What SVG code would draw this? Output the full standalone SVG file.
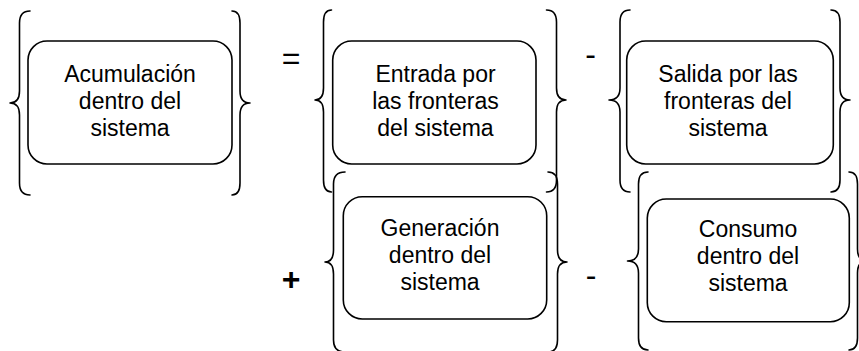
<svg xmlns="http://www.w3.org/2000/svg" width="859" height="351" viewBox="0 0 859 351">
<style>
.br{fill:none;stroke:#000;stroke-width:1.6;stroke-linecap:round;stroke-linejoin:round}
.bx{fill:#fff;stroke:#000;stroke-width:1.6}
.t{font-family:"Liberation Sans",Arial,sans-serif;font-size:23px;fill:#000;text-anchor:middle}
.op{font-family:"Liberation Sans",Arial,sans-serif;font-size:32px;fill:#000;text-anchor:middle}
</style>
<rect width="859" height="351" fill="#fff"/>
<g id="connectors">
<text class="op" x="291" y="69">=</text>
<text class="op" x="590.5" y="65">-</text>
<text class="op" x="291" y="289.5" font-weight="bold">+</text>
<text class="op" x="591" y="285.5">-</text>
</g>
<g id="acumulacion">
<path class="br" d="M30,11 Q19.5,11 19.5,23 L19.5,91 Q19.5,103 10,103 Q19.5,103 19.5,115 L19.5,183 Q19.5,195 30,195"/>
<path class="br" d="M232,11 Q240,11 240,23 L240,91 Q240,103 250,103 Q240,103 240,115 L240,183 Q240,195 232,195"/>
<rect class="bx" x="28" y="41" width="204" height="123" rx="19"/>
<text class="t" x="130" y="82">Acumulación</text>
<text class="t" x="130" y="109">dentro del</text>
<text class="t" x="130" y="136">sistema</text>
</g>
<g id="entrada">
<path class="br" d="M331.5,10 Q323.5,10 323.5,22 L323.5,88 Q323.5,100 315,100 Q323.5,100 323.5,112 L323.5,180 Q323.5,192 331.5,192"/>
<path class="br" d="M546.5,10 Q556.5,10 556.5,22 L556.5,88 Q556.5,100 566,100 Q556.5,100 556.5,112 L556.5,180 Q556.5,192 546.5,192"/>
<rect class="bx" x="332.7" y="41" width="203.3" height="123" rx="19"/>
<text class="t" x="435.5" y="82">Entrada por</text>
<text class="t" x="435.5" y="109">las fronteras</text>
<text class="t" x="435.5" y="136">del sistema</text>
</g>
<g id="salida">
<path class="br" d="M630,10 Q620,10 620,22 L620,88 Q620,100 609,100 Q620,100 620,112 L620,180 Q620,192 630,192"/>
<path class="br" d="M831,10 Q840,10 840,22 L840,88 Q840,100 850,100 Q840,100 840,112 L840,180 Q840,192 831,192"/>
<rect class="bx" x="626.7" y="41" width="206.6" height="123" rx="19"/>
<text class="t" x="728" y="82">Salida por las</text>
<text class="t" x="728" y="109">fronteras del</text>
<text class="t" x="728" y="136">sistema</text>
</g>
<g id="generacion">
<path class="br" d="M345,172 Q333.5,172 333.5,184 L333.5,250 Q333.5,262 325,262 Q333.5,262 333.5,274 L333.5,340 Q333.5,352 345,352"/>
<path class="br" d="M548,172 Q557.5,172 557.5,184 L557.5,250 Q557.5,262 567,262 Q557.5,262 557.5,274 L557.5,340 Q557.5,352 548,352"/>
<rect class="bx" x="343.3" y="196.7" width="203.4" height="122.3" rx="19"/>
<text class="t" x="440" y="236">Generación</text>
<text class="t" x="440" y="263">dentro del</text>
<text class="t" x="440" y="290">sistema</text>
</g>
<g id="consumo">
<path class="br" d="M648,172 Q638.5,172 638.5,184 L638.5,249 Q638.5,261 627.5,261 Q638.5,261 638.5,273 L638.5,338 Q638.5,350 648,350"/>
<path class="br" d="M849,172 Q857.5,172 857.5,184 L857.5,249 Q857.5,261 867,261 Q857.5,261 857.5,273 L857.5,338 Q857.5,350 849,350"/>
<rect class="bx" x="647.3" y="199" width="202" height="122.7" rx="19"/>
<text class="t" x="748" y="237">Consumo</text>
<text class="t" x="748" y="264">dentro del</text>
<text class="t" x="748" y="291">sistema</text>
</g>
</svg>
